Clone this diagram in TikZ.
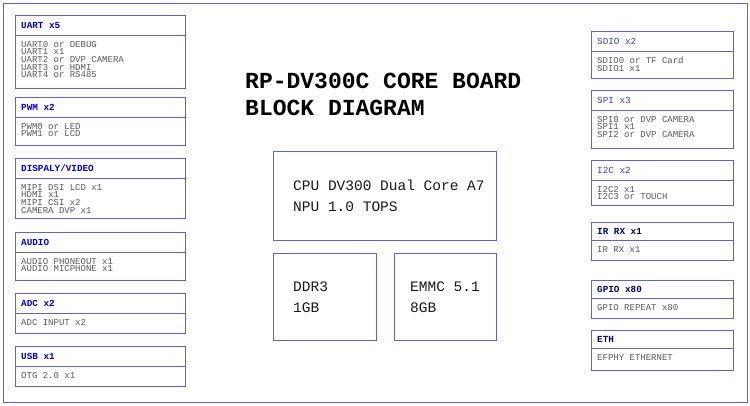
\documentclass[tikz,border=0pt]{standalone}
\usepackage{fontspec}
\setmonofont{Liberation Mono}
\begin{document}
\begin{tikzpicture}[x=1pt,y=-1pt,
  frame/.style={draw=blue!55!gray!80, line width=0.8pt},
  ttl/.style={anchor=west, font=\ttfamily\bfseries\fontsize{9.3}{10}\selectfont, text=blue!85!black, inner sep=0},
  ttlr/.style={anchor=west, font=\ttfamily\fontsize{9.3}{10}\selectfont, text=blue!50!gray, inner sep=0},
  ttld/.style={anchor=west, font=\ttfamily\bfseries\fontsize{9.3}{10}\selectfont, text=blue!40!black, inner sep=0},
  body/.style={anchor=north west, align=left, font=\ttfamily\fontsize{9}{7.6}\selectfont, text=gray!70!black, inner sep=0},
  big/.style={anchor=west, align=left, font=\ttfamily\fontsize{14.5}{21}\selectfont, text=gray!20!black, inner sep=0}]
\useasboundingbox (0,0) rectangle (750,405);
\draw[frame] (3,3) rectangle (747,402);
\newcommand\blk[9]{%
  \draw[frame,line width=0.6pt] (#1,#2) rectangle (#3,#4);
  \draw[frame,line width=0.6pt] (#1,#5) -- (#3,#5);
  \node[#6] (#9t) at (#1+6,{(#2+#5)/2}) {#7};
  \node[body] (#9b) at (#1+6,#5+6) {#8};}
\blk{15}{15}{185}{88}{35}{ttl}{UART x5}{UART0 or DEBUG\\UART1 x1\\UART2 or DVP CAMERA\\UART3 or HDMI\\UART4 or RS485}{uart}
\blk{15}{97}{185}{145}{117}{ttl}{PWM x2}{PWM0 or LED\\PWM1 or LCD}{pwm}
\blk{15}{158}{185}{218}{178}{ttl}{DISPALY/VIDEO}{MIPI DSI LCD x1\\HDMI x1\\MIPI CSI x2\\CAMERA DVP x1}{disp}
\blk{15}{232}{185}{280}{252}{ttl}{AUDIO}{AUDIO PHONEOUT x1\\AUDIO MICPHONE x1}{aud}
\blk{15}{293}{185}{333}{313}{ttl}{ADC x2}{ADC INPUT x2}{adc}
\blk{15}{346}{185}{386}{366}{ttl}{USB x1}{OTG 2.0 x1}{usb}
\blk{591}{31}{733}{78}{51}{ttlr}{SDIO x2}{SDIO0 or TF Card\\SDIO1 x1}{sdio}
\blk{591}{90}{733}{148}{110}{ttlr}{SPI x3}{SPI0 or DVP CAMERA\\SPI1 x1\\SPI2 or DVP CAMERA}{spi}
\blk{591}{160}{733}{205}{180}{ttlr}{I2C x2}{I2C2 x1\\I2C3 or TOUCH}{i2c}
\blk{591}{222}{733}{260}{240}{ttld}{IR RX x1}{IR RX x1}{ir}
\blk{591}{280}{733}{318}{298}{ttld}{GPIO x80}{GPIO REPEAT x80}{gpio}
\blk{591}{330}{733}{370}{348}{ttld}{ETH}{EFPHY ETHERNET}{eth}
\node[anchor=west, align=left, inner sep=0, font=\ttfamily\bfseries\fontsize{23}{23}\selectfont] (title) at (245,94) {RP-DV300C CORE BOARD\\[4pt]BLOCK DIAGRAM};
\draw[frame,line width=0.6pt] (273,151) rectangle (496,240);
\node[big] (cpu) at (293,196) {CPU DV300 Dual Core A7\\NPU 1.0 TOPS};
\draw[frame,line width=0.6pt] (273,253) rectangle (376,340);
\node[big] (ddr) at (293,297) {DDR3\\1GB};
\draw[frame,line width=0.6pt] (394,253) rectangle (496,340);
\node[big] (emmc) at (410,297) {EMMC 5.1\\8GB};
\end{tikzpicture}
\end{document}
